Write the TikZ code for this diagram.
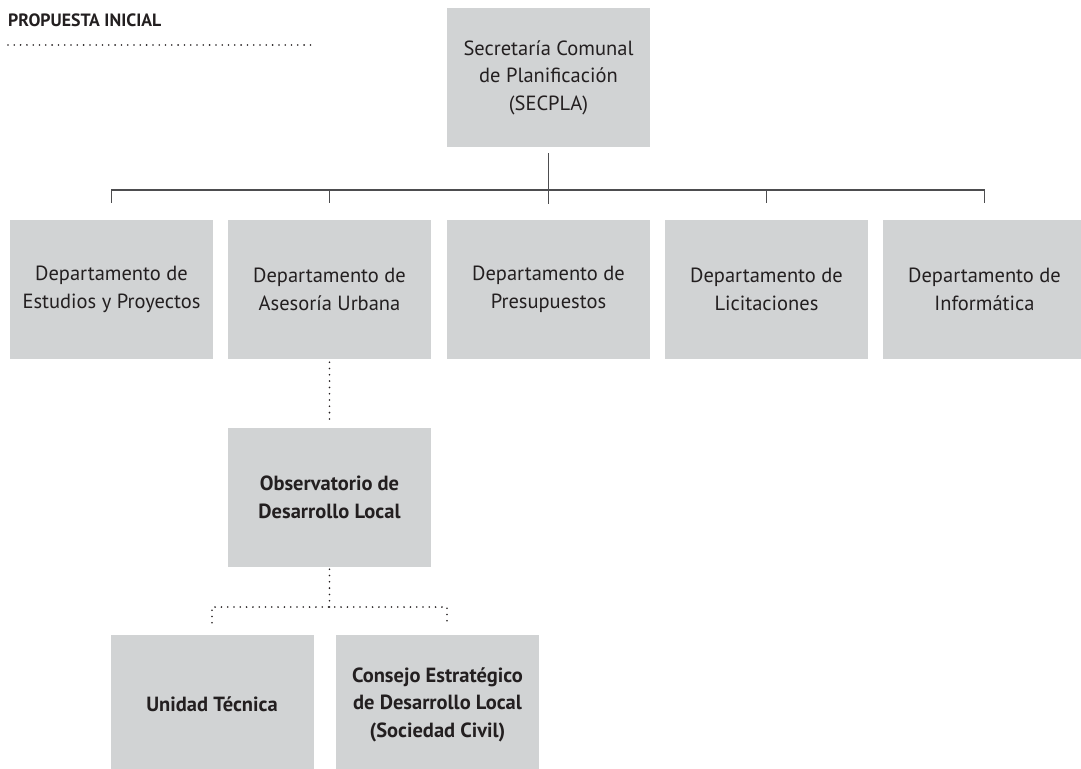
\documentclass[tikz,border=0pt]{standalone}
\usepackage{fontspec}
\setmainfont{PT Sans}
\usepackage{tikz}
\usetikzlibrary{calc}
\usetikzlibrary{positioning}

\definecolor{boxgray}{HTML}{D1D3D4}
\definecolor{inkgray}{HTML}{231F20}
\definecolor{linegray}{HTML}{4D4D4F}

\begin{document}
\begin{tikzpicture}[x=1pt, y=-1pt,
  unit/.style={fill=boxgray, text=inkgray, minimum width=203pt, minimum height=139pt,
    inner sep=0pt, align=center, font=\fontsize{20.5}{27.5}\selectfont},
  boldunit/.style={unit, font=\fontsize{20.5}{27.5}\selectfont\bfseries},
  solidline/.style={draw=linegray, line width=1.5pt},
  dotline/.style={draw=inkgray, line width=1.8pt, dash pattern=on 0pt off 6.3pt, line cap=round}]
\useasboundingbox (0,0) rectangle (1081,768);

%Title
\node[anchor=base west, inner sep=0pt, text=inkgray, font=\fontsize{17.8}{20}\selectfont\bfseries]
  (title) at (8,27) {PROPUESTA INICIAL};
\coordinate (ruleend) at (315,45);
\draw[dotline] (title.west |- ruleend) -- (ruleend);

%SECPLA
\node[unit] (secpla) at (548.5,77.5) {Secretaría Comunal\\de Planificación\\(SECPLA)};

%Departamentos
\foreach \name/\x/\txt in {estudios/111.5/{Departamento de\\Estudios y Proyectos},
    asesoria/329.5/{Departamento de\\Asesoría Urbana},
    presupuestos/548.5/{Departamento de\\Presupuestos},
    licitaciones/766.5/{Departamento de\\Licitaciones},
    informatica/984.5/{Departamento de\\Informática}} {
  \node[unit] (\name) at (\x,289.5) {\txt};
}

\coordinate (bus) at (548.5,190);
\draw[solidline] ($(secpla.south)+(0,6)$) -- ($(presupuestos.north)-(0,16)$);
\draw[solidline] ($(estudios.north)-(0,17)$) |- (bus) -| ($(informatica.north)-(0,17)$);
\foreach \n in {asesoria,licitaciones} {
  \draw[solidline] (\n.north |- bus) -- ($(\n.north)-(0,17)$);
}

%Observatorio
\node[boldunit] (observatorio) at (329.5,497.5) {Observatorio de\\Desarrollo Local};
\draw[dotline] ($(asesoria.south)+(0,3)$) -- ($(observatorio.north)-(0,6)$);

\node[boldunit] (unidad) at (212,704.5) {Unidad Técnica};
\node[boldunit] (consejo) at (437.5,704.5) {Consejo Estratégico\\de Desarrollo Local\\(Sociedad Civil)};

\coordinate (obsbus) at (329.5,607);
\draw[dotline] ($(observatorio.south)+(0,2)$) -- (obsbus);
\draw[dotline] ($(unidad.north)-(0,12)$) |- (obsbus) -| ($(consejo.north)+(9.5,-12)$);
\end{tikzpicture}
\end{document}
